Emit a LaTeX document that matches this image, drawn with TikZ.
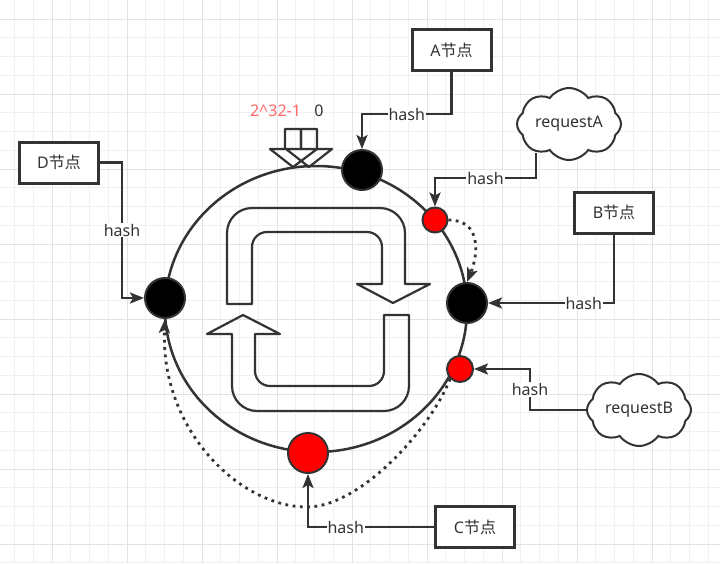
\documentclass[tikz,border=0pt]{standalone}
\usepackage{fontspec}
\setmainfont{Noto Sans}
\newfontfamily\cjk{Noto Sans CJK SC}
\usepackage{xcolor}
\usepackage{tikz}
\usetikzlibrary{arrows.meta,positioning,shapes.symbols,calc}

\definecolor{ink}{HTML}{333333}
\definecolor{hotred}{HTML}{FF0000}
\definecolor{salmon}{HTML}{FF6666}

\begin{document}
\begin{tikzpicture}[
    x=1pt, y=-1pt,
    font=\fontsize{16}{19}\selectfont,
    text=ink,
    gridminor/.style={
        draw=gray!12,
        line width=1pt
    },
    gridmajor/.style={
        draw=gray!22,
        line width=1pt
    },
    nodebox/.style={
        draw=ink,
        fill=white,
        line width=3pt,
        minimum width=79pt,
        minimum height=41pt,
        inner sep=2pt
    },
    request/.style={
        cloud,
        cloud puffs=8,
        cloud puff arc=110,
        cloud ignores aspect,
        draw=ink,
        fill=white,
        line width=2pt,
        minimum width=104pt,
        minimum height=72pt,
        inner sep=0pt
    },
    server/.style={
        circle,
        draw=ink,
        fill=black,
        line width=2pt,
        minimum size=40pt,
        inner sep=0pt
    },
    hit/.style={
        circle,
        draw=ink,
        fill=hotred,
        line width=2pt,
        inner sep=0pt
    },
    outline/.style={
        draw=ink,
        line width=2.2pt,
        line join=round
    },
    arrow/.style={
        draw=ink,
        line width=2.5pt,
        -{Stealth[length=14pt,width=11pt,inset=3pt]}
    },
    hop/.style={
        draw=ink,
        line width=2.8pt,
        dash pattern=on 2.8pt off 4.5pt,
        -{Stealth[length=14pt,width=11pt,inset=3pt]}
    },
    hashlabel/.style={
        fill=white,
        inner sep=1pt
    }
]

\useasboundingbox (0,0) rectangle (720,563);

% Background grid
\fill[white] (0,0) rectangle (720,563);
\foreach \i in {0,...,37}
    \draw[gridminor] ({14.5+18.75*\i},0) -- ++(0,563);
\foreach \i in {0,...,29}
    \draw[gridminor] (0,{19+18.75*\i}) -- ++(720,0);
\foreach \i in {0,...,8}
    \draw[gridmajor] ({52+75*\i},0) -- ++(0,563);
\foreach \i in {0,...,7}
    \draw[gridmajor] (0,{19+75*\i}) -- ++(720,0);

% Hash ring
\draw[outline, line width=2.5pt] (316,309) ellipse[x radius=151, y radius=143];

% Turning arrows inside the ring
\draw[outline] (227,304) -- (227,233)
    arc[start angle=180, end angle=270, radius=25] -- (380,208)
    arc[start angle=270, end angle=360, radius=25] -- (405,284)
    -- (430,284) -- (393,303) -- (357,284) -- (382,284) -- (382,247)
    arc[start angle=0, end angle=-90, radius=15] -- (267,232)
    arc[start angle=270, end angle=180, radius=15] -- (252,304) -- cycle;

\draw[outline] (409,315) -- (409,386)
    arc[start angle=0, end angle=90, radius=25] -- (257,411)
    arc[start angle=90, end angle=180, radius=25] -- (232,334)
    -- (207,334) -- (243,315) -- (280,334) -- (255,334) -- (255,371)
    arc[start angle=180, end angle=90, radius=15] -- (369,386)
    arc[start angle=90, end angle=0, radius=15] -- (384,315) -- cycle;

% Start / end of the ring
\node[text=salmon] (maxval) at (275.5,111) {2\^{}32-1};
\node (zeroval) at (319,111) {0};

\draw[outline] (285,129) -- (285,149) -- (270,149) -- (293,167)
    -- (317,149) -- (301,149) -- (301,129) -- cycle;
\draw[outline] (301,129) -- (301,149) -- (286,149) -- (309,167)
    -- (332,149) -- (317,149) -- (317,129) -- cycle;

% Server and request nodes on the ring
\node[server] (srvA) at (362,170) {};
\node[server] (srvB) at (467,303) {};
\node[server] (srvD) at (165,298) {};
\node[hit, minimum size=40pt] (srvC) at (308,453) {};
\node[hit, minimum size=25pt] (hitA) at (435,220) {};
\node[hit, minimum size=26pt] (hitB) at (460,369) {};

% Boxes and clouds
\node[nodebox] (boxA) at (451.5,50) {A{\cjk 节点}};
\node[nodebox] (boxB) at (614,212.5) {B{\cjk 节点}};
\node[nodebox] (boxC) at (475,527) {C{\cjk 节点}};
\node[nodebox] (boxD) at (59,162.5) {D{\cjk 节点}};

\node[request] (reqA) at (569,124) {requestA};
\node[request] (reqB) at (639,410) {requestB};

% Hash connectors
\draw[arrow] ($(reqA.south)+(-33,-8)$) -- ++(0,25)
    -| node[hashlabel, pos=0.25] {hash} (hitA.north);
\draw[arrow] (boxA.south) -- ++(0,42)
    -| node[hashlabel, pos=0.25] {hash} (srvA.north);
\draw[arrow] (boxB.south)
    |- node[hashlabel, pos=0.62] {hash} (srvB.east);
\draw[arrow] (reqB.west) -- ++(-56,0)
    |- node[hashlabel, pos=0.25] {hash} (hitB.east);
\draw[arrow] (boxC.west)
    -| node[hashlabel, pos=0.35] {hash} (srvC.south);
\draw[arrow] (boxD.east) -- ++(22,0)
    |- node[hashlabel, pos=0.25] {hash} (srvD.west);

% Clockwise hops to the next server
\draw[hop] (hitA.east) .. controls (482,220) and (478,255) .. (srvB.north);
\draw[hop] (hitB.south west) .. controls (430,430) and (360,507) .. (307,507)
    .. controls (240,507) and (160,430) .. (srvD.south);

\end{tikzpicture}
\end{document}
